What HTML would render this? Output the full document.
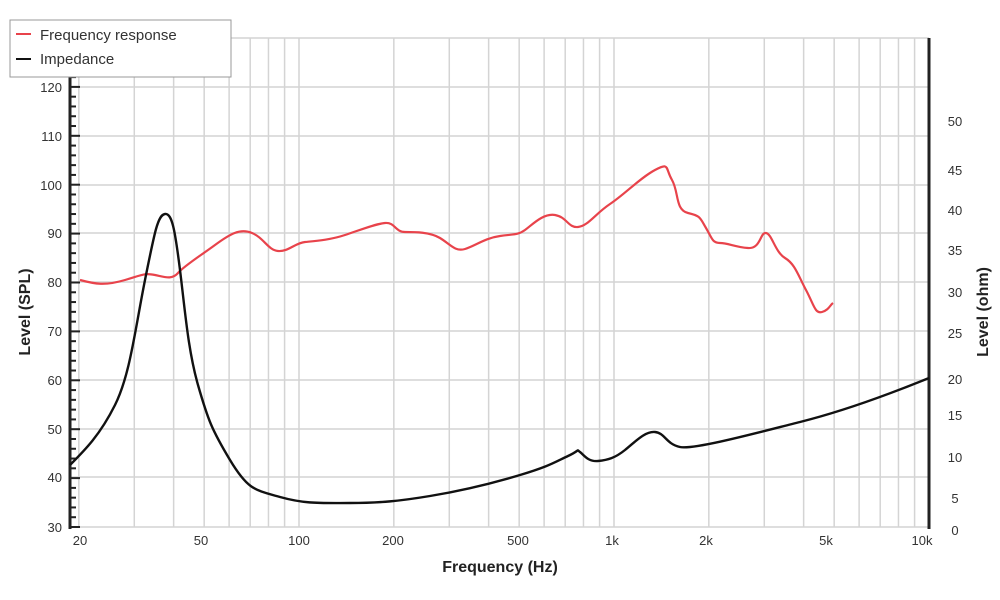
<!DOCTYPE html>
<html><head><style>body{margin:0;background:#fff}svg{display:block;font-family:"Liberation Sans",sans-serif}</style></head><body>
<svg width="1000" height="600" viewBox="0 0 1000 600">
<g stroke="#d4d4d4" stroke-width="1.5" fill="none">
<path d="M70 87H929M70 136H929M70 185H929M70 233H929M70 282H929M70 331H929M70 380H929M70 429H929M70 477H929M70 527H929M70 38H929"/>
</g>
<g id="vl" stroke="#d4d4d4" stroke-width="1.5"></g>
<g stroke="#222" stroke-width="2">
<line x1="70" y1="76" x2="70" y2="529" stroke-width="3"/>
<line x1="929" y1="38" x2="929" y2="529" stroke-width="3"/>
</g>
<g id="ticks" stroke="#222" stroke-width="2"></g>
<g font-size="13" fill="#333" text-anchor="end">
<text x="62" y="92">120</text><text x="62" y="141">110</text><text x="62" y="190">100</text><text x="62" y="238">90</text><text x="62" y="287">80</text><text x="62" y="336">70</text><text x="62" y="385">60</text><text x="62" y="434">50</text><text x="62" y="482">40</text><text x="62" y="532">30</text>
</g>
<g font-size="13" fill="#333" text-anchor="middle">
<text x="955" y="126">50</text><text x="955" y="175">45</text><text x="955" y="215">40</text><text x="955" y="255">35</text><text x="955" y="297">30</text><text x="955" y="338">25</text><text x="955" y="384">20</text><text x="955" y="420">15</text><text x="955" y="462">10</text><text x="955" y="503">5</text><text x="955" y="535">0</text>
<text x="80" y="545">20</text><text x="201" y="545">50</text><text x="299" y="545">100</text><text x="393" y="545">200</text><text x="518" y="545">500</text><text x="612" y="545">1k</text><text x="706" y="545">2k</text><text x="826" y="545">5k</text><text x="922" y="545">10k</text>
</g>
<text x="500" y="572" font-size="16" font-weight="bold" text-anchor="middle" fill="#222">Frequency (Hz)</text>
<text transform="translate(30,312) rotate(-90)" font-size="16" font-weight="bold" text-anchor="middle" fill="#222">Level (SPL)</text>
<text transform="translate(988,312) rotate(-90)" font-size="16" font-weight="bold" text-anchor="middle" fill="#222">Level (ohm)</text>
<path fill="none" stroke="#e8434b" stroke-width="2.2" stroke-linejoin="round" d="M80 280 C95 284 105 286 125 280 S145 273 155 275 S172 280 178 273 S200 256 215 245 S240 228 252 233 S268 250 278 251 S295 243 305 242 S330 240 345 235 S375 224 385 223 S395 232 405 232 S430 232 440 238 S455 252 465 249 S485 238 500 236 S518 235 525 230 S543 213 555 215 S568 228 578 227 S595 214 610 204 S640 178 655 170 S665 168 672 180 S675 210 688 213 S700 218 706 228 S712 243 720 243 S735 247 748 248 S760 232 766 233 S775 252 785 258 S798 275 806 290 S815 314 822 312 S830 305 833 303"/>
<path fill="none" stroke="#111" stroke-width="2.4" stroke-linejoin="round" d="M70 465 C85 450 100 435 115 405 S135 330 145 280 S158 215 165 214 S175 230 180 270 S188 350 198 385 S212 430 230 460 S255 490 280 497 S320 503 350 503 S400 501 430 496 S490 484 520 475 S555 462 568 456 S576 449 580 452 S588 462 598 461 S615 458 625 450 S645 431 655 432 S666 444 680 447 S760 432 800 422 S880 398 929 378"/>
<rect x="10" y="20" width="221" height="57" fill="#fff" stroke="#999" stroke-width="1"/>
<line x1="16" y1="34" x2="31" y2="34" stroke="#e8434b" stroke-width="2"/>
<line x1="16" y1="59" x2="31" y2="59" stroke="#111" stroke-width="2"/>
<text x="40" y="40" font-size="15" fill="#333">Frequency response</text>
<text x="40" y="64" font-size="15" fill="#333">Impedance</text>
<script>
var ns="http://www.w3.org/2000/svg",g=document.getElementById("vl"),t=document.getElementById("ticks");
function X(f){return 299+315*Math.log10(f/100);}
[20,30,40,50,60,70,80,90,100,200,300,400,500,600,700,800,900,1000,2000,3000,4000,5000,6000,7000,8000,9000].forEach(function(f){var l=document.createElementNS(ns,"line"),x=X(f);l.setAttribute("x1",x);l.setAttribute("x2",x);l.setAttribute("y1",38);l.setAttribute("y2",527);g.appendChild(l);});
for(var v=30;v<=122;v+=2){var y=527-(v-30)*4.89,l=document.createElementNS(ns,"line");l.setAttribute("x1",70);l.setAttribute("x2",v%10==0?80:76);l.setAttribute("y1",y);l.setAttribute("y2",y);t.appendChild(l);}
</script>
</svg>
</body></html>
